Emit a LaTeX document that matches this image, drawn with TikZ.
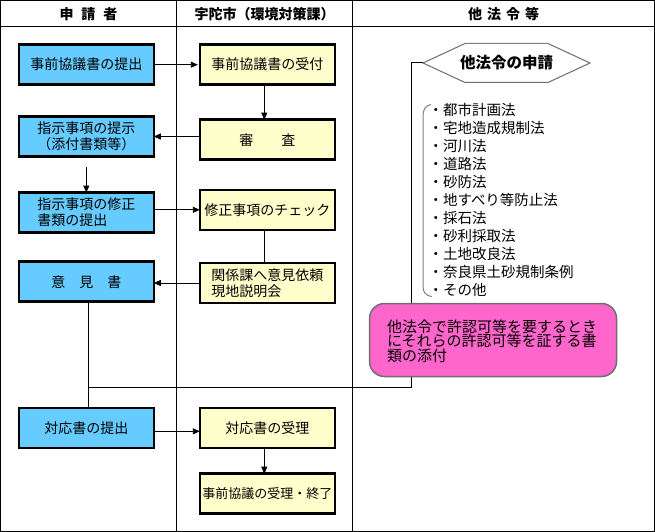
\documentclass[tikz,border=0pt]{standalone}
\usepackage{fontspec}
\setmainfont{Noto Sans CJK JP}
\usetikzlibrary{arrows.meta}
\definecolor{bluefill}{RGB}{102,204,255}
\definecolor{yellowfill}{RGB}{255,255,204}
\definecolor{pinkfill}{RGB}{255,102,204}
\definecolor{edgegray}{RGB}{110,110,110}
\begin{document}
\begin{tikzpicture}[x=1pt,y=-1pt,
  every node/.style={inner sep=0pt, outer sep=0pt},
  txt/.style={font=\fontsize{14}{16}\selectfont},
  hdr/.style={font=\fontsize{14}{16}\selectfont\bfseries},
  bluebox/.style={txt, draw, line width=2.6pt, fill=bluefill, minimum width=135pt, minimum height=40pt, align=center},
  yelbox/.style={txt, draw, line width=2.6pt, fill=yellowfill, minimum width=135pt, minimum height=40pt, align=center},
  lawitem/.style={anchor=west, font=\fontsize{14.5}{16}\selectfont},
  arr/.style={-{Triangle[length=7pt,width=6pt]}, line width=0.9pt},
  conn/.style={line width=0.9pt}
]
\useasboundingbox (0,0) rectangle (655,532);
% frame
\draw[line width=1pt] (0.5,0.5) rectangle (654.5,531.5);
\draw[line width=1pt] (0.5,26.5) -- (654.5,26.5);
\draw[line width=1pt] (176.5,0.5) -- (176.5,531.5);
\draw[line width=1pt] (352.5,0.5) -- (352.5,531.5);
% headers
\node[hdr] (h1) at (88.5,14.5) {申\hspace{8pt}請\hspace{8pt}者};
\node[hdr] (h2) at (264.5,14.5) {宇陀市（環境対策課）};
\node[hdr] (h3) at (503.5,14.5) {他\hspace{5pt}法\hspace{5pt}令\hspace{5pt}等};

% boxes
\node[bluebox] (b1) at (86.3,64.7) {事前協議書の提出};
\node[yelbox]  (y1) at (267.3,64.7) {事前協議書の受付};
\node[bluebox] (b2) at (86.3,136.5) {指示事項の提示\\（添付書類等）};
\node[yelbox]  (y2) at (267.3,139.7) {審　　査};
\node[bluebox, align=left] (b3) at (86.3,212.5) {指示事項の修正\\書類の提出};
\node[yelbox]  (y3) at (267.3,209.8) {修正事項のチェック};
\node[bluebox] (b4) at (86.3,281.7) {意　見　書};
\node[yelbox, align=left] (y4) at (267.3,283) {関係課へ意見依頼\\現地説明会};
\node[bluebox] (b5) at (86.3,427.8) {対応書の提出};
\node[yelbox]  (y5) at (267.3,427.8) {対応書の受理};
\node[yelbox, font=\fontsize{13}{15}\selectfont] (y6) at (267.3,493.7) {事前協議の受理・終了};

% connectors
\draw[arr, shorten >=2pt] (b1.east) -- (y1.west);
\draw[arr] ([xshift=-3pt]y1.south) -- ([xshift=-3pt]y2.north);
\draw[arr] (y2.west |- b2.east) -- (b2.east);
\draw[arr, shorten <=10pt] (b2.south) -- (b3.north);
\draw[arr] (b3.east |- y3.west) -- (y3.west);
\draw[conn] ([xshift=-3pt]y3.south) -- ([xshift=-3pt]y4.north);
\draw[arr] (y4.west) -- (b4.east |- y4.west);
\draw[conn] ([xshift=1.7pt]b4.south) -- ([xshift=1.7pt]b5.north);
\draw[arr] ([yshift=-3.5pt]b5.east) -- ([yshift=-3.5pt]y5.west);
\draw[arr] ([xshift=-3pt]y5.south) -- ([xshift=-3pt]y6.north);

% hexagon
\coordinate (hexL) at (423,63);
\draw[edgegray, line width=1pt, fill=white] (hexL) -- (465,43.5) -- (548,43.5) -- (590,63) -- (548,82.5) -- (465,82.5) -- cycle;
\draw[gray, line width=1.8pt] (465,43.5) -- (548,43.5);
\node[font=\fontsize{15.5}{17}\selectfont\bfseries] (hex) at (506.5,63) {他法令の申請};

% connector from 意見書 junction to hexagon
\coordinate (j1) at (88,387.5);
\coordinate (j2) at (411.5,387.5);
\coordinate (j3) at (411.5,63);
\draw[line width=1pt] (j1) -- (j2) -- (j3) -- (hexL);

% law list
\foreach \t [count=\i from 0] in {都市計画法,宅地造成規制法,河川法,道路法,砂防法,地すべり等防止法,採石法,砂利採取法,土地改良法,奈良県土砂規制条例,その他}{
  \node[lawitem] (law\i) at (428.5,110+18*\i) {・\t};
}
\draw[gray, line width=1pt] (431,104.5) .. controls (425,105.5) and (423,110) .. (423,116) -- (423,286) .. controls (423,292) and (425,295.5) .. (432,296.5);

% pink box
\node[draw=edgegray, line width=1.5pt, fill=pinkfill, rounded corners=15pt,
      minimum width=247pt, minimum height=73pt] (pink) at (493,340) {};
\node[font=\fontsize{15}{14.7}\selectfont, align=left] (pinktxt) at (492,341) {他法令で許認可等を要するとき\\にそれらの許認可等を証する書\\類の添付};
\end{tikzpicture}
\end{document}
